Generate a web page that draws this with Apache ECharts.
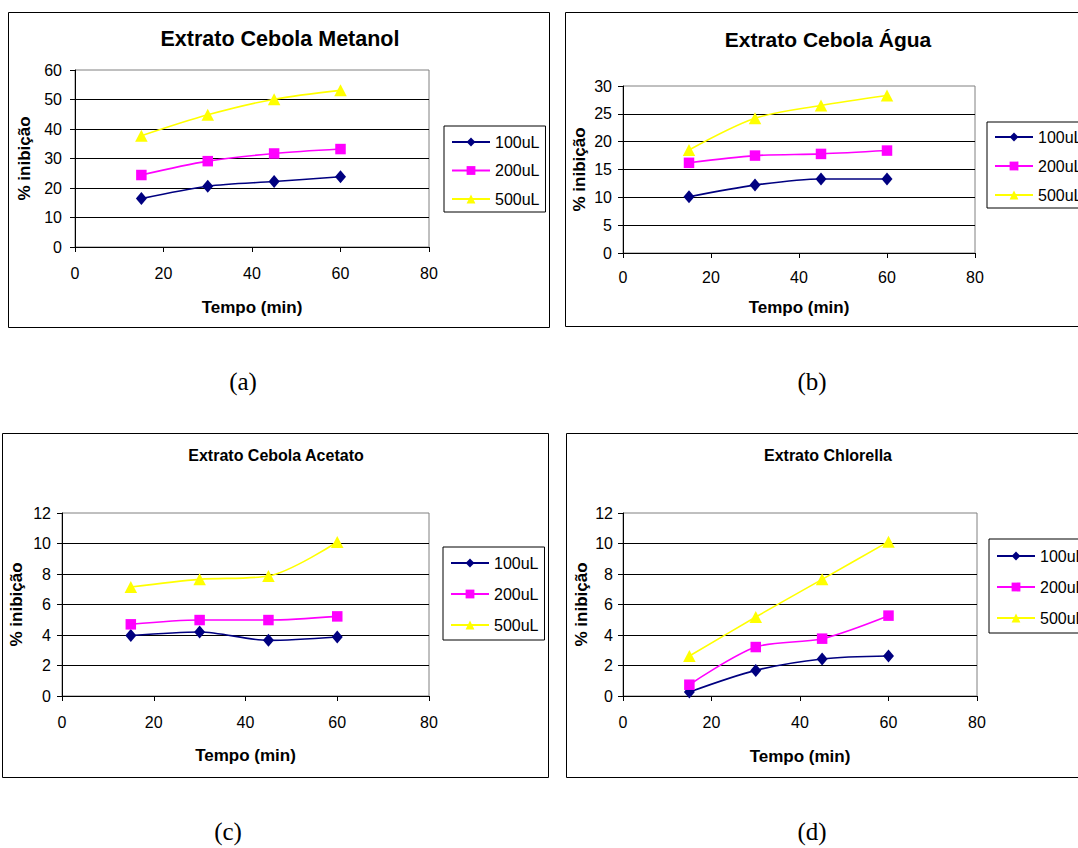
<!DOCTYPE html>
<html>
<head>
<meta charset="utf-8">
<script src="https://cdn.jsdelivr.net/npm/echarts@6/dist/echarts.min.js"></script>
<style>
html, body { margin: 0; padding: 0; background: #fff; overflow: hidden; }
#chart { width: 1078px; height: 848px; }
</style>
</head>
<body>
<div id="chart"></div>
<script>
// ---- data ----
const times = [15, 30, 45, 60];
const doseNames = ['100uL', '200uL', '500uL'];
const panelTitles = ['Extrato Cebola Metanol', 'Extrato Cebola Água', 'Extrato Cebola Acetato', 'Extrato Chlorella'];
const panelCaptions = ['(a)', '(b)', '(c)', '(d)'];
const xAxisName = 'Tempo (min)';
const yAxisName = '% inibição';
const xMax = 80;
const xStep = 20;
const yMaxes = [60, 30, 12, 12];
const ySteps = [10, 5, 2, 2];

const metanol100 = [16.4, 20.6, 22.2, 23.8];
const metanol200 = [24.4, 29.1, 31.7, 33.2];
const metanol500 = [37.7, 44.8, 50.1, 53.1];
const agua100 = [10.1, 12.2, 13.3, 13.3];
const agua200 = [16.2, 17.5, 17.8, 18.4];
const agua500 = [18.5, 24.2, 26.5, 28.3];
const acetato100 = [3.96, 4.2, 3.65, 3.87];
const acetato200 = [4.7, 4.98, 4.98, 5.22];
const acetato500 = [7.15, 7.65, 7.87, 10.1];
const chlorella100 = [0.26, 1.68, 2.43, 2.62];
const chlorella200 = [0.74, 3.21, 3.76, 5.27];
const chlorella500 = [2.62, 5.18, 7.65, 10.12];

const panelData = [
  [metanol100, metanol200, metanol500],
  [agua100, agua200, agua500],
  [acetato100, acetato200, acetato500],
  [chlorella100, chlorella200, chlorella500]
];

// ---- styles / layout ----
const FONT = "'Liberation Sans', Arial, sans-serif";
const doseColors = ['#000080', '#FF00FF', '#FFFF00'];
const doseSymbols = ['diamond', 'rect', 'triangle'];
const doseSymbolSizes = [[11, 13], [10.5, 10.5], [12.5, 12]];

const layout = [
  { box: [8, 12, 541, 315], grid: [75, 70, 354, 177], title: [280, 39, 21.5], caption: [243, 381],
    legend: { left: 444, top: 126, gap: 10.5, pad: [7, 6, 4, 7] }, yLabelMargin: 13, xLabelMargin: 18, xNameGap: 52, yNameGap: 42 },
  { box: [565, 12, 540, 314], grid: [623, 86, 352, 167], title: [828, 39, 21], caption: [812, 381],
    legend: { left: 987, top: 122, gap: 11, pad: [6, 6, 4, 7] }, yLabelMargin: 11, xLabelMargin: 16, xNameGap: 46, yNameGap: 35 },
  { box: [2, 433, 546, 344], grid: [62, 513, 367, 183], title: [276, 455, 16], caption: [228, 831],
    legend: { left: 443, top: 547, gap: 13, pad: [7, 6, 6, 7] }, yLabelMargin: 11, xLabelMargin: 18, xNameGap: 51, yNameGap: 37 },
  { box: [566, 433, 540, 344], grid: [623, 513, 354, 183], title: [828, 455, 16], caption: [812, 831],
    legend: { left: 989, top: 539, gap: 13, pad: [8, 6, 6, 7] }, yLabelMargin: 10, xLabelMargin: 18, xNameGap: 52, yNameGap: 33 }
];

const grids = [], xAxes = [], yAxes = [], series = [], legends = [], graphics = [];

layout.forEach((L, i) => {
  grids.push({
    left: L.grid[0], top: L.grid[1], width: L.grid[2], height: L.grid[3],
    show: true, borderColor: '#808080', borderWidth: 1, backgroundColor: '#fff', containLabel: false
  });
  xAxes.push({
    type: 'value', gridIndex: i, min: 0, max: xMax, interval: xStep,
    axisLine: { show: true, onZero: false, lineStyle: { color: '#000', width: 1 } },
    axisTick: { show: true, length: 5, inside: false, lineStyle: { color: '#000' } },
    axisLabel: { fontFamily: FONT, fontSize: 16, color: '#000', margin: L.xLabelMargin },
    splitLine: { show: false },
    name: xAxisName, nameLocation: 'middle', nameGap: L.xNameGap,
    nameTextStyle: { fontFamily: FONT, fontSize: 17, fontWeight: 'bold', color: '#000' }
  });
  yAxes.push({
    type: 'value', gridIndex: i, min: 0, max: yMaxes[i], interval: ySteps[i],
    axisLine: { show: true, onZero: false, lineStyle: { color: '#000', width: 1 } },
    axisTick: { show: true, length: 5, inside: false, lineStyle: { color: '#000' } },
    axisLabel: { fontFamily: FONT, fontSize: 16, color: '#000', margin: L.yLabelMargin },
    splitLine: { show: true, showMaxLine: false, lineStyle: { color: '#000', width: 1 } },
    name: yAxisName, nameLocation: 'middle', nameGap: L.yNameGap, nameRotate: 90,
    nameTextStyle: { fontFamily: FONT, fontSize: 17, fontWeight: 'bold', color: '#000' }
  });
  doseNames.forEach((name, j) => {
    series.push({
      type: 'line', name: name, xAxisIndex: i, yAxisIndex: i,
      data: times.map((t, k) => [t, panelData[i][j][k]]),
      smooth: 0.3,
      symbol: doseSymbols[j], symbolSize: doseSymbolSizes[j],
      lineStyle: { color: doseColors[j], width: 1.6 },
      itemStyle: { color: doseColors[j], borderWidth: 0 },
      z: 3 + j
    });
  });
  legends.push({
    orient: 'vertical', left: L.legend.left, top: L.legend.top,
    data: doseNames, itemWidth: 38, itemHeight: 11, itemGap: L.legend.gap,
    padding: L.legend.pad, borderColor: '#000', borderWidth: 1, borderRadius: 0,
    backgroundColor: '#fff', selectedMode: false,
    textStyle: { fontFamily: FONT, fontSize: 16, color: '#000', lineHeight: 18 }
  });
  graphics.push({
    type: 'rect', silent: true, z: 100,
    shape: { x: L.box[0] + 0.5, y: L.box[1] + 0.5, width: L.box[2], height: L.box[3] },
    style: { fill: 'none', stroke: '#000', lineWidth: 1 }
  });
  graphics.push({
    type: 'text', silent: true, z: 100, x: L.title[0], y: L.title[1],
    style: { text: panelTitles[i], fontFamily: FONT, fontSize: L.title[2], fontWeight: 'bold', fill: '#000',
             textAlign: 'center', textVerticalAlign: 'middle', align: 'center', verticalAlign: 'middle' }
  });
  graphics.push({
    type: 'text', silent: true, z: 100, x: L.caption[0], y: L.caption[1],
    style: { text: panelCaptions[i], fontFamily: "'Liberation Serif', 'Times New Roman', serif", fontSize: 25, fill: '#000',
             textAlign: 'center', textVerticalAlign: 'middle', align: 'center', verticalAlign: 'middle' }
  });
});

const chart = echarts.init(document.getElementById('chart'), null, { renderer: 'svg', width: 1078, height: 848 });
chart.setOption({
  animation: false,
  backgroundColor: '#fff',
  grid: grids,
  xAxis: xAxes,
  yAxis: yAxes,
  legend: legends,
  series: series,
  graphic: { elements: graphics }
});
</script>
</body>
</html>
